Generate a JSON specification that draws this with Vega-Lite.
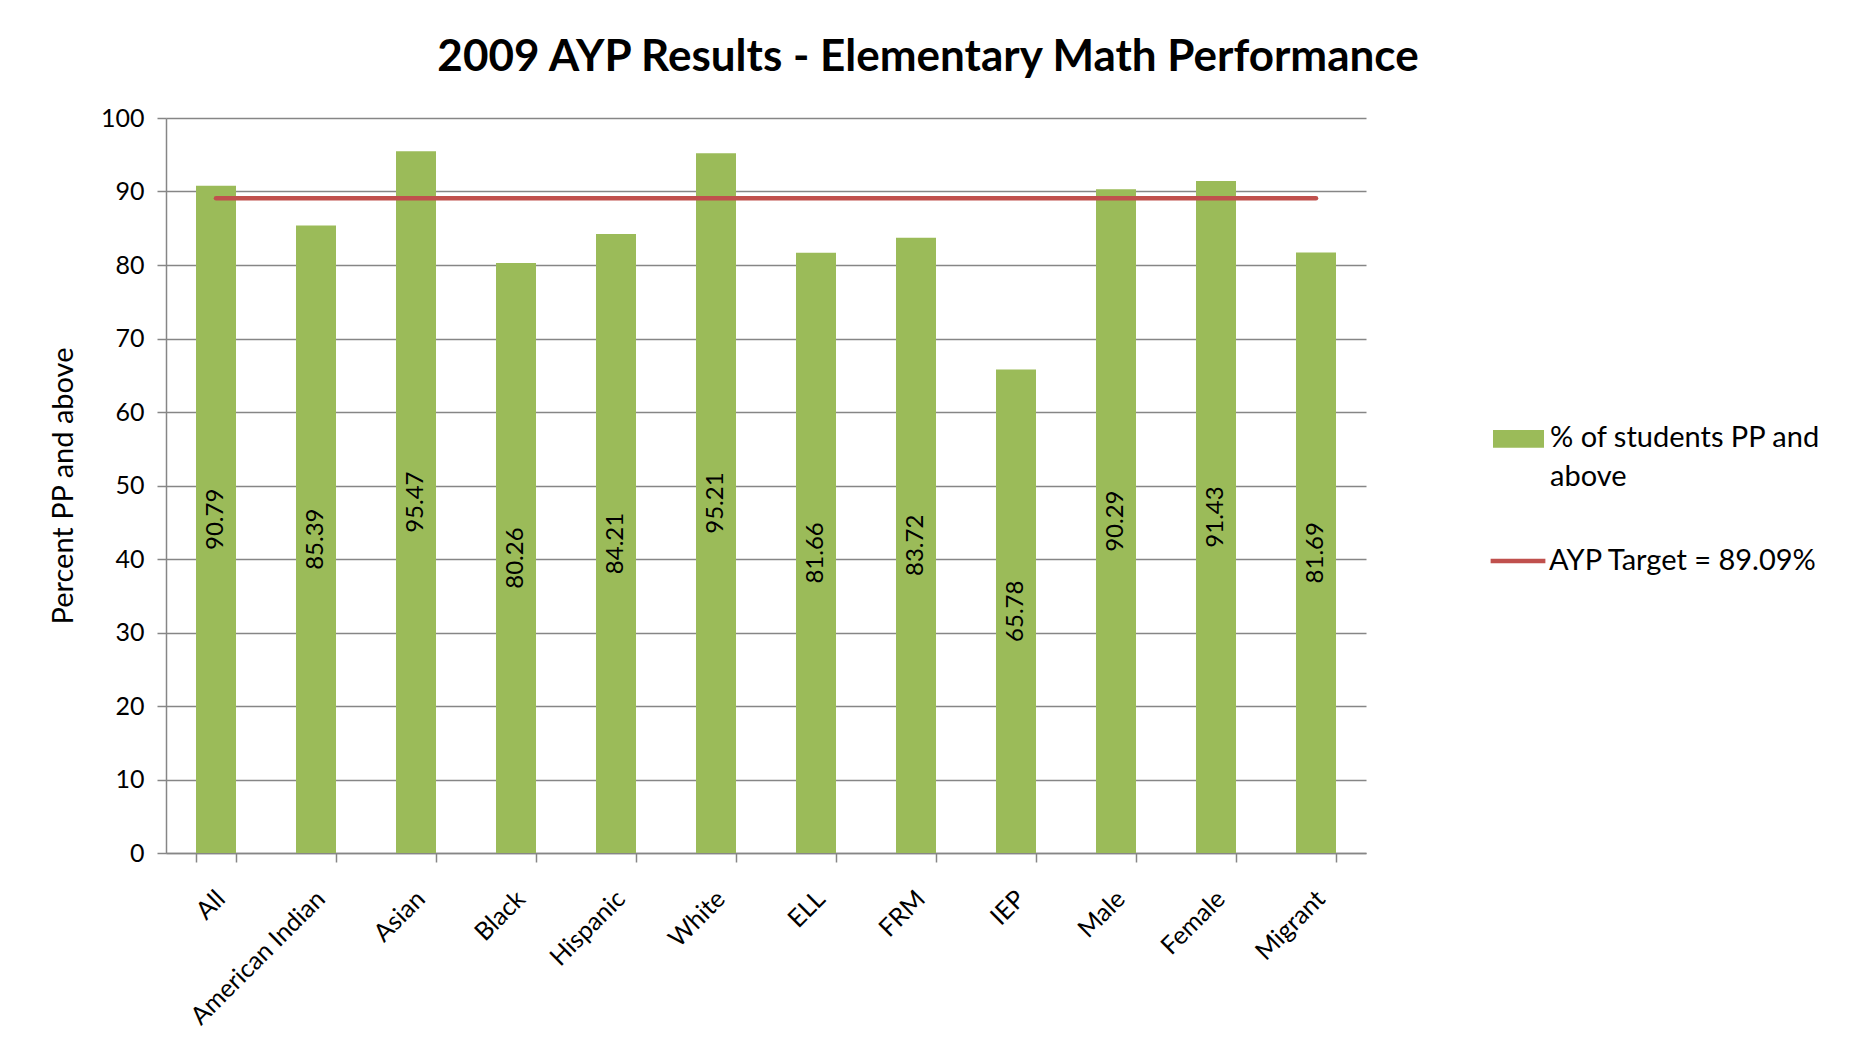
{
  "$schema": "https://vega.github.io/schema/vega-lite/v6.json",
  "autosize": {"type": "none"},
  "padding": {"left": 166, "top": 118, "right": 489, "bottom": 209},
  "width": 1200,
  "height": 735,
  "background": "white",
  "config": {
    "font": "Lato",
    "view": {"stroke": null},
    "legend": {"labelFont": "Lato", "labelFontSize": 29, "labelColor": "black", "labelLimit": 400},
    "style": {"guide-label": {"lineHeight": 39}}
  },
  "title": {
    "text": "2009 AYP Results - Elementary Math Performance",
    "font": "Lato",
    "fontSize": 44,
    "fontWeight": "bold",
    "color": "black",
    "anchor": "middle",
    "dx": 162,
    "offset": 26
  },
  "data": {
    "values": [
      {"group": "All", "value": 90.79, "target": 89.09, "series": "% of students PP and above", "line": "AYP Target = 89.09%"},
      {"group": "American Indian", "value": 85.39, "target": 89.09, "series": "% of students PP and above", "line": "AYP Target = 89.09%"},
      {"group": "Asian", "value": 95.47, "target": 89.09, "series": "% of students PP and above", "line": "AYP Target = 89.09%"},
      {"group": "Black", "value": 80.26, "target": 89.09, "series": "% of students PP and above", "line": "AYP Target = 89.09%"},
      {"group": "Hispanic", "value": 84.21, "target": 89.09, "series": "% of students PP and above", "line": "AYP Target = 89.09%"},
      {"group": "White", "value": 95.21, "target": 89.09, "series": "% of students PP and above", "line": "AYP Target = 89.09%"},
      {"group": "ELL", "value": 81.66, "target": 89.09, "series": "% of students PP and above", "line": "AYP Target = 89.09%"},
      {"group": "FRM", "value": 83.72, "target": 89.09, "series": "% of students PP and above", "line": "AYP Target = 89.09%"},
      {"group": "IEP", "value": 65.78, "target": 89.09, "series": "% of students PP and above", "line": "AYP Target = 89.09%"},
      {"group": "Male", "value": 90.29, "target": 89.09, "series": "% of students PP and above", "line": "AYP Target = 89.09%"},
      {"group": "Female", "value": 91.43, "target": 89.09, "series": "% of students PP and above", "line": "AYP Target = 89.09%"},
      {"group": "Migrant", "value": 81.69, "target": 89.09, "series": "% of students PP and above", "line": "AYP Target = 89.09%"}
    ]
  },
  "encoding": {
    "x": {
      "field": "group",
      "type": "nominal",
      "sort": null,
      "scale": {"paddingInner": 0.6, "paddingOuter": 0.3},
      "axis": {
        "title": null,
        "labelAngle": -45,
        "labelFont": "Lato",
        "labelFontSize": 25,
        "labelColor": "black",
        "tickBand": "extent",
        "tickColor": "#868686",
        "tickWidth": 1.5,
        "tickSize": 9,
        "domainColor": "#868686",
        "domainWidth": 1.5,
        "labelPadding": 24,
        "labelOffset": -4
      }
    }
  },
  "layer": [
    {
      "mark": {"type": "bar", "stroke": null},
      "encoding": {
        "y": {
          "field": "value",
          "type": "quantitative",
          "scale": {"domain": [0, 100], "nice": false},
          "axis": {
            "title": "Percent PP and above",
            "titleFont": "Lato",
            "titleFontSize": 29,
            "titleFontWeight": "normal",
            "titleColor": "black",
            "titlePadding": 22,
            "values": [0, 10, 20, 30, 40, 50, 60, 70, 80, 90, 100],
            "labelFont": "Lato",
            "labelFontSize": 25,
            "labelColor": "black",
            "labelPadding": 13,
            "grid": true,
            "gridColor": "#868686",
            "gridWidth": 1.5,
            "domainColor": "#868686",
            "domainWidth": 1.5,
            "tickColor": "#868686",
            "tickWidth": 1.5,
            "tickSize": 9
          }
        },
        "fill": {
          "field": "series",
          "type": "nominal",
          "scale": {"range": ["#9BBB59"]},
          "legend": {
            "title": null,
            "orient": "none",
            "legendX": 1327,
            "legendY": 280,
            "symbolType": "M-1,0.25H1V0.95H-1Z",
            "symbolSize": 2601,
            "symbolStrokeWidth": 0,
            "labelBaseline": "top",
            "labelOffset": 6,
            "labelExpr": "datum.label == '% of students PP and above' ? ['% of students PP and', 'above'] : datum.label"
          }
        }
      }
    },
    {
      "mark": {"type": "text", "angle": 270, "font": "Lato", "fontSize": 24, "color": "black"},
      "encoding": {
        "y": {"field": "value", "type": "quantitative", "scale": {"domain": [0, 200], "nice": false}, "axis": null},
        "text": {"field": "value", "type": "quantitative", "format": ".2f"}
      }
    },
    {
      "mark": {"type": "line", "strokeWidth": 4.5, "strokeCap": "round"},
      "encoding": {
        "y": {"field": "target", "type": "quantitative", "scale": {"domain": [0, 100], "nice": false}, "axis": null},
        "stroke": {
          "field": "line",
          "type": "nominal",
          "scale": {"range": ["#C0504D"]},
          "legend": {
            "title": null,
            "orient": "none",
            "legendX": 1322,
            "legendY": 413,
            "symbolType": "stroke",
            "symbolSize": 3000,
            "symbolStrokeWidth": 4.5,
            "labelOffset": 1
          }
        }
      }
    }
  ],
  "resolve": {"scale": {"y": "independent"}}
}
